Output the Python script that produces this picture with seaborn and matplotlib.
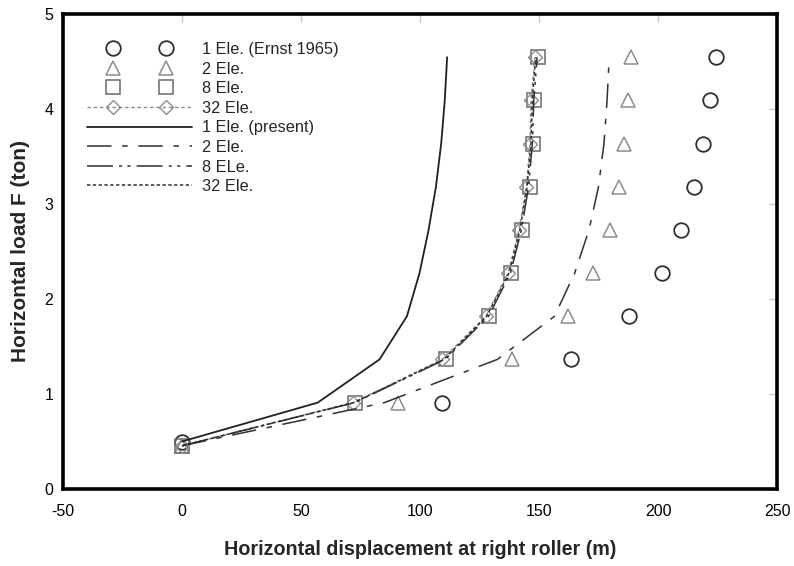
import matplotlib
matplotlib.use("Agg")
import matplotlib.pyplot as plt
import seaborn as sns
from matplotlib.lines import Line2D
from matplotlib.legend_handler import HandlerLine2D, HandlerTuple

# ---- data -------------------------------------------------------------
load = [0.455, 0.909, 1.364, 1.818, 2.273, 2.727, 3.182, 3.636, 4.091, 4.545]
load_top = [0.50, 0.909, 1.364, 1.818, 2.273, 2.727, 3.182, 3.636, 4.091, 4.545]

x_ernst_1 = [0, 109.4, 163.3, 188.0, 201.6, 209.6, 215.0, 218.8, 222.0, 224.4]
x_ernst_2 = [0, 90.9, 138.8, 162.0, 172.6, 179.7, 183.5, 185.9, 187.4, 188.8]
x_ernst_8 = [0, 72.8, 110.8, 129.0, 138.4, 143.0, 146.1, 147.6, 148.0, 149.7]
x_ernst_32 = [0, 71.8, 109.4, 127.6, 137.0, 141.6, 144.7, 146.2, 146.6, 148.3]

x_present_1 = [0, 57.0, 83.0, 94.5, 99.8, 103.6, 106.7, 108.9, 110.4, 111.4]
x_present_2 = [0, 85.0, 132.5, 156.5, 165.0, 171.0, 175.0, 177.3, 178.6, 179.5]
x_present_8 = [0, 72.5, 110.5, 128.8, 138.0, 142.6, 145.6, 147.2, 147.8, 149.2]
x_present_32 = [0, 72.2, 110.0, 128.0, 137.4, 142.0, 145.0, 146.6, 147.2, 148.6]

labels = ["1 Ele. (Ernst 1965)", "2 Ele.", "8 Ele.", "32 Ele.",
          "1 Ele. (present)", "2 Ele.", "8 ELe.", "32 Ele."]
x_ticks = [-50, 0, 50, 100, 150, 200, 250]
y_ticks = [0, 1, 2, 3, 4, 5]

# ---- style ------------------------------------------------------------
sns.set_style("white")
plt.rcParams["font.family"] = ["Liberation Sans", "DejaVu Sans"]
plt.rcParams["axes.unicode_minus"] = False

fig = plt.figure(figsize=(7.94, 5.66), dpi=100)
ax = fig.add_axes([63 / 794, 1 - 489 / 566, 714 / 794, 475 / 566])

ls_2 = (0, (16, 7, 3.6, 7))
ls_8 = (0, (17, 4, 2, 3.5, 2, 4))
ls_32 = (0, (2.2, 1.6))
ls_m32 = (0, (2.5, 2.0))

# experimental markers
mk_common = dict(linestyle="", markerfacecolor="none", sort=False, estimator=None, legend=False)
sns.lineplot(x=x_ernst_1, y=load_top, marker="o", markersize=10.5, markeredgecolor="#303030",
             markeredgewidth=1.3, color="#303030", ax=ax, **mk_common)
sns.lineplot(x=x_ernst_2, y=load, marker="^", markersize=10.5, markeredgecolor="#8c8c8c",
             markeredgewidth=1.1, color="#8c8c8c", ax=ax, **mk_common)
sns.lineplot(x=x_ernst_8, y=load, marker="s", markersize=10.5, markeredgecolor="#6a6a6a",
             markeredgewidth=1.1, color="#6a6a6a", ax=ax, **mk_common)
sns.lineplot(x=x_ernst_32, y=load, marker="D", markersize=7.5, markeredgecolor="#8c8c8c",
             markeredgewidth=1.0, markerfacecolor="none", color="#8c8c8c", linestyle=ls_m32,
             linewidth=1.0, sort=False, estimator=None, legend=False, ax=ax)

# present lines
sns.lineplot(x=x_present_1, y=load_top, color="#202020", linewidth=1.3, sort=False,
             estimator=None, legend=False, ax=ax)
sns.lineplot(x=x_present_2, y=load, color="#303030", linewidth=1.1, linestyle=ls_2,
             sort=False, estimator=None, legend=False, ax=ax)
sns.lineplot(x=x_present_8, y=load, color="#303030", linewidth=1.1, linestyle=ls_8,
             sort=False, estimator=None, legend=False, ax=ax)
sns.lineplot(x=x_present_32, y=load, color="#303030", linewidth=1.1, linestyle=ls_32,
             sort=False, estimator=None, legend=False, ax=ax)

ax.set_xlim(x_ticks[0], x_ticks[-1])
ax.set_ylim(y_ticks[0], y_ticks[-1])
ax.set_xticks(x_ticks)
ax.set_yticks(y_ticks)
ax.tick_params(direction="in", length=6, width=1, color="#c8c8c8", top=True, right=True,
               labelsize=11.5, labelcolor="black")
ax.tick_params(axis="x", pad=11)
ax.tick_params(axis="y", pad=7)
for sp in ax.spines.values():
    sp.set_linewidth(2.6)
    sp.set_color("black")

ax.set_xlabel("Horizontal displacement at right roller (m)", fontsize=14.2,
              fontweight="bold", labelpad=15)
ax.set_ylabel("Horizontal load F (ton)", fontsize=15, fontweight="bold", labelpad=10)

# ---- legend -----------------------------------------------------------
h1 = Line2D([], [], linestyle="", marker="o", markersize=10.5, markerfacecolor="none",
            markeredgecolor="#303030", markeredgewidth=1.3)
h2 = Line2D([], [], linestyle="", marker="^", markersize=10.5, markerfacecolor="none",
            markeredgecolor="#8c8c8c", markeredgewidth=1.1)
h3 = Line2D([], [], linestyle="", marker="s", markersize=10.5, markerfacecolor="none",
            markeredgecolor="#6a6a6a", markeredgewidth=1.1)
h4m = Line2D([], [], linestyle="", marker="D", markersize=7.5, markerfacecolor="none",
             markeredgecolor="#8c8c8c", markeredgewidth=1.0)
h4l = Line2D([], [], linestyle=ls_m32, color="#8c8c8c", linewidth=1.0)
h5 = Line2D([], [], color="#202020", linewidth=1.3)
h6 = Line2D([], [], color="#303030", linewidth=1.1, linestyle=ls_2)
h7 = Line2D([], [], color="#303030", linewidth=1.1, linestyle=ls_8)
h8 = Line2D([], [], color="#303030", linewidth=1.1, linestyle=ls_32)

mk_handler = HandlerLine2D(numpoints=2, marker_pad=1.6)
hmap = {h1: mk_handler, h2: mk_handler, h3: mk_handler, h4m: mk_handler,
        tuple: HandlerTuple(ndivide=1, pad=0)}
ax.legend([h1, h2, h3, (h4l, h4m), h5, h6, h7, h8], labels, handler_map=hmap,
          loc="upper left", bbox_to_anchor=(0.034, 0.941), frameon=False,
          fontsize=11.8, handlelength=6.4, handletextpad=0.6, labelspacing=0.28,
          borderaxespad=0, borderpad=0, numpoints=1)

fig.savefig("out.png", dpi=100)
